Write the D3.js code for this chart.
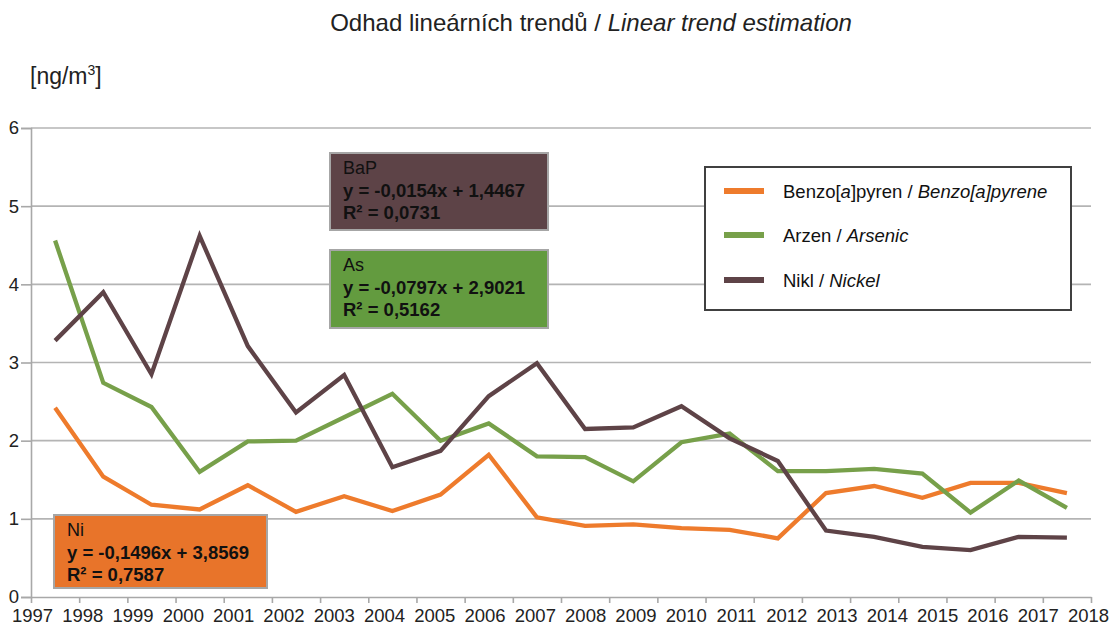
<!DOCTYPE html>
<html><head><meta charset="utf-8">
<script src="https://cdnjs.cloudflare.com/ajax/libs/d3/7.8.5/d3.min.js"></script>
<style>
html,body{margin:0;padding:0;background:#fff;}
svg{display:block;font-family:"Liberation Sans",Arial,sans-serif;}
</style></head>
<body>
<svg id="chart" width="1115" height="627"></svg>
<script>
// ---- data ----
const categories = ["1997","1998","1999","2000","2001","2002","2003","2004","2005","2006","2007","2008","2009","2010","2011","2012","2013","2014","2015","2016","2017","2018"];
const bap     = [2.42,1.54,1.18,1.12,1.43,1.09,1.29,1.10,1.31,1.82,1.02,0.91,0.93,0.88,0.86,0.75,1.33,1.42,1.27,1.46,1.46,1.33];
const arsenic = [4.56,2.74,2.43,1.60,1.99,2.00,2.30,2.60,2.00,2.22,1.80,1.79,1.48,1.98,2.09,1.61,1.61,1.64,1.58,1.08,1.49,1.14];
const nickel  = [3.28,3.90,2.85,4.62,3.21,2.36,2.84,1.66,1.87,2.57,2.99,2.15,2.17,2.44,2.03,1.74,0.85,0.77,0.64,0.60,0.77,0.76];
const yTicks = [0,1,2,3,4,5,6];
const seriesNames = ["Benzo[a]pyren / Benzo[a]pyrene","Arzen / Arsenic","Nikl / Nickel"];
const trendBaP = ["BaP","y = -0,0154x + 1,4467","R² = 0,0731"];
const trendAs  = ["As","y = -0,0797x + 2,9021","R² = 0,5162"];
const trendNi  = ["Ni","y = -0,1496x + 3,8569","R² = 0,7587"];

const lineColors = ["#EE7B2C","#77A04A","#5E4347"];
const svg = d3.select("#chart");

const x = d3.scaleLinear().domain([0, categories.length]).range([31, 1091]);
const xl = d3.scalePoint().domain(categories).range([32, 1088]);
const y = d3.scaleLinear().domain([0, 6]).range([597, 128]);

// title
const title = svg.append("text").attr("x", 591).attr("y", 31).attr("text-anchor","middle")
  .attr("font-size", 24).attr("fill","#222");
title.append("tspan").text("Odhad lineárních trendů / ");
title.append("tspan").attr("font-style","italic").text("Linear trend estimation");

// unit label
const unit = svg.append("text").attr("x", 30).attr("y", 84).attr("font-size", 23).attr("fill","#222");
unit.append("tspan").text("[ng/m");
unit.append("tspan").attr("font-size", 14).attr("dy", -9).text("3");
unit.append("tspan").attr("dy", 9).text("]");

// gridlines
svg.append("g").selectAll("line").data(yTicks.filter(d => d > 0)).join("line")
  .attr("x1", x(0)).attr("x2", x(categories.length))
  .attr("y1", d => y(d)).attr("y2", d => y(d))
  .attr("stroke", "#b4b4b4").attr("stroke-width", 1.6);

// y axis
const ya = svg.append("g").attr("transform", `translate(${x(0)},0)`)
  .call(d3.axisLeft(y).tickValues(yTicks).tickSize(10).tickPadding(2).tickFormat(d3.format("d")));
ya.select(".domain").attr("stroke","#a8a8a8").attr("stroke-width",1.6);
ya.selectAll(".tick line").attr("stroke","#a8a8a8").attr("stroke-width",1.6);
ya.selectAll("text").attr("font-size", 18.5).attr("fill","#222").attr("font-family","Liberation Sans, Arial, sans-serif");

// x axis ticks
const xa = svg.append("g").attr("transform", `translate(0,${y(0)})`)
  .call(d3.axisBottom(x).tickValues(d3.range(categories.length + 1)).tickSize(6).tickSizeOuter(0).tickFormat(""));
xa.select(".domain").attr("stroke","#a8a8a8").attr("stroke-width",1.6);
xa.selectAll(".tick line").attr("stroke","#a8a8a8").attr("stroke-width",1.6);

// x axis labels
const xla = svg.append("g").attr("transform", `translate(0,${y(0)})`)
  .call(d3.axisBottom(xl).tickSize(0).tickPadding(0));
xla.select(".domain").remove();
xla.selectAll("text").attr("font-size", 18.5).attr("fill","#222").attr("font-family","Liberation Sans, Arial, sans-serif")
  .attr("dy", null).attr("y", 25);

// lines
const line = d3.line().x((d, i) => x(i + 0.5)).y(d => y(d));
[bap, arsenic, nickel].forEach((s, k) => {
  svg.append("path").datum(s).attr("d", line).attr("fill","none")
    .attr("stroke", lineColors[k]).attr("stroke-width", 4.3).attr("stroke-linejoin","miter");
});

// trend boxes
function trendBox(lines, bx, by, bw, bh, fill) {
  const g = svg.append("g");
  g.append("rect").attr("x", bx).attr("y", by).attr("width", bw).attr("height", bh)
    .attr("fill", fill).attr("stroke", "#a6a6a6").attr("stroke-width", 2);
  lines.forEach((t, i) => {
    g.append("text").attr("x", bx + 13).attr("y", by + 21 + i * 22.5)
      .attr("font-size", i === 0 ? 18 : 18.5).attr("font-weight", i === 0 ? "normal" : "bold")
      .attr("fill", "#111").text(t);
  });
}
trendBox(trendBaP, 330, 153, 218, 77, "#5D4347");
trendBox(trendAs, 330, 250, 218, 78, "#639B3F");
trendBox(trendNi, 54, 515, 213, 73, "#E8742A");

// legend
const lg = svg.append("g");
lg.append("rect").attr("x", 705).attr("y", 167).attr("width", 366).attr("height", 143)
  .attr("fill","#fff").attr("stroke","#404040").attr("stroke-width",2);
const legendY = [191, 235, 280];
seriesNames.forEach((name, k) => {
  lg.append("rect").attr("x", 724).attr("y", legendY[k] - 3).attr("width", 40).attr("height", 6).attr("fill", lineColors[k]);
  const t = lg.append("text").attr("x", 783).attr("y", legendY[k] + 6.5).attr("font-size", 18.5).attr("fill","#111");
  const parts = name.split(" / ");
  if (k === 0) {
    t.append("tspan").text("Benzo[");
    t.append("tspan").attr("font-style","italic").text("a");
    t.append("tspan").text("]pyren / ");
  } else {
    t.append("tspan").text(parts[0] + " / ");
  }
  t.append("tspan").attr("font-style","italic").text(parts[1]);
});
</script>
</body></html>
